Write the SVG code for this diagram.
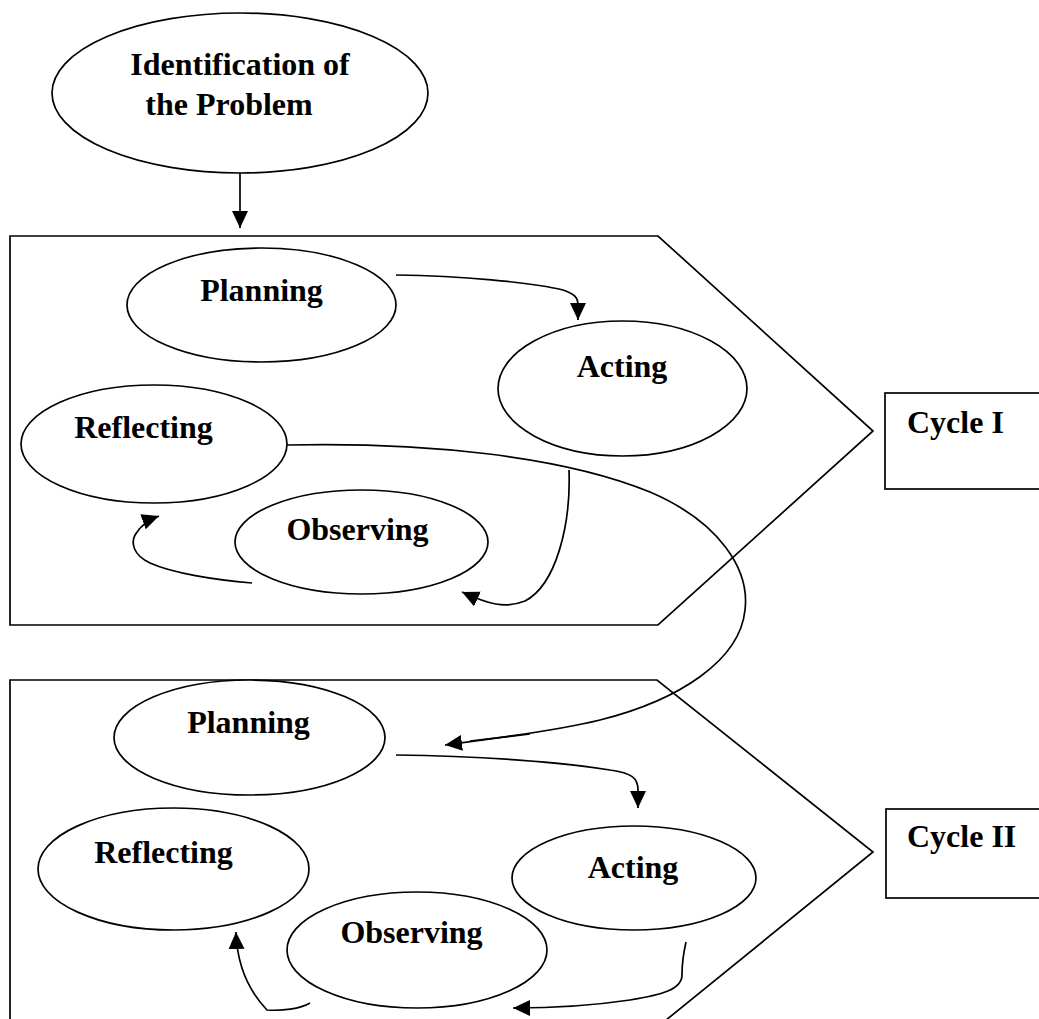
<svg xmlns="http://www.w3.org/2000/svg" width="1039" height="1019" viewBox="0 0 1039 1019">
  <style>
    .shape { fill: #ffffff; stroke: #000000; stroke-width: 1.7; }
    .frame { fill: none; stroke: #000000; stroke-width: 1.7; }
    .conn { fill: none; stroke: #000000; stroke-width: 1.7; }
    .lbl { font-family: "Liberation Serif", "Times New Roman", serif; font-weight: bold; font-size: 32px; fill: #000000; }
    .mid { text-anchor: middle; }
  </style>
  <defs>
    <marker id="ah" viewBox="0 0 17 17" refX="17" refY="8.5" markerWidth="17" markerHeight="17" markerUnits="userSpaceOnUse" orient="auto">
      <path d="M0,0.5 L17,8.5 L0,16.5 z" fill="#000000"/>
    </marker>
  </defs>
  <rect width="1039" height="1019" fill="#ffffff"/>

  <g id="cycle1-frame">
    <polygon class="frame" points="10,236 658,236 873,431 658,625 10,625"/>
  </g>
  <g id="cycle2-frame">
    <polygon class="frame" points="10,680 657,680 873,852 660,1025 10,1025"/>
  </g>

  <g id="identification">
    <ellipse class="shape" cx="240" cy="93" rx="188" ry="80"/>
    <text class="lbl mid" x="240" y="75">Identification of</text>
    <text class="lbl mid" x="229" y="115">the Problem</text>
  </g>

  <g id="planning1">
    <ellipse class="shape" cx="261.5" cy="305" rx="134.5" ry="57"/>
    <text class="lbl mid" x="261.5" y="301">Planning</text>
  </g>
  <g id="acting1">
    <ellipse class="shape" cx="622.5" cy="388.5" rx="124.5" ry="67.5"/>
    <text class="lbl mid" x="622" y="377">Acting</text>
  </g>
  <g id="reflecting1">
    <ellipse class="shape" cx="154" cy="444" rx="133" ry="59"/>
    <text class="lbl mid" x="143.5" y="438">Reflecting</text>
  </g>
  <g id="observing1">
    <ellipse class="shape" cx="361.5" cy="542" rx="126.5" ry="52"/>
    <text class="lbl mid" x="357.5" y="540">Observing</text>
  </g>

  <g id="planning2">
    <ellipse class="shape" cx="249.5" cy="737.5" rx="135.5" ry="57.5"/>
    <text class="lbl mid" x="248.5" y="733">Planning</text>
  </g>
  <g id="acting2">
    <ellipse class="shape" cx="634" cy="878" rx="122" ry="52"/>
    <text class="lbl mid" x="633" y="878">Acting</text>
  </g>
  <g id="reflecting2">
    <ellipse class="shape" cx="173.5" cy="869" rx="135.5" ry="61"/>
    <text class="lbl mid" x="163.5" y="863">Reflecting</text>
  </g>
  <g id="observing2">
    <ellipse class="shape" cx="417" cy="950" rx="130" ry="58"/>
    <text class="lbl mid" x="411.5" y="943">Observing</text>
  </g>

  <g id="cycle1-label">
    <rect class="frame" x="885" y="393" width="200" height="96"/>
    <text class="lbl" x="907" y="433">Cycle I</text>
  </g>
  <g id="cycle2-label">
    <rect class="frame" x="886" y="809" width="200" height="89"/>
    <text class="lbl" x="907" y="847">Cycle II</text>
  </g>

  <g id="connectors">
    <path class="conn" d="M240,173 L240,228" marker-end="url(#ah)"/>
    <path class="conn" d="M396,275 C460,276 530,282 563,290 C575,294 578,298 578,305 L578,320" marker-end="url(#ah)"/>
    <path class="conn" d="M569,470 C571,525 556,585 525,601 C505,609 488,604 462,592" marker-end="url(#ah)"/>
    <path class="conn" d="M252,583 C215,580 172,573 150,563 C133,555 131,543 135,535 C140,526 148,520 159,516" marker-end="url(#ah)"/>
    <path class="conn" d="M287,445 C420,442 560,455 650,492 C720,522 750,570 745,610 C740,660 680,700 600,720 C560,730 500,738 445,745" marker-end="url(#ah)"/>
    <path class="conn" d="M470,741 L530,734" stroke-width="2.6"/>
    <path class="conn" d="M396,755 C480,756 560,762 610,770 C632,773 638,778 638,790 L638,808" marker-end="url(#ah)"/>
    <path class="conn" d="M686,942 C683,955 682,965 682,975 C682,990 660,995 630,1000 C590,1006 550,1008 513,1008" marker-end="url(#ah)"/>
    <path class="conn" d="M310,1003 C300,1009 282,1011 267,1010 C248,990 237,965 236,932" marker-end="url(#ah)"/>
  </g>
</svg>
